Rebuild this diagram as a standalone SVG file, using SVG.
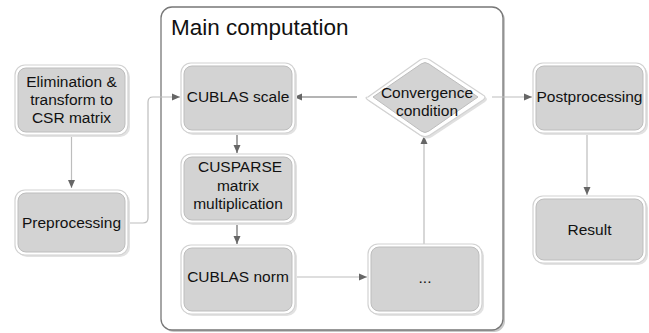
<svg xmlns="http://www.w3.org/2000/svg" width="649" height="333" viewBox="0 0 649 333">
<defs>
<marker id="ah" markerUnits="userSpaceOnUse" markerWidth="10" markerHeight="10" viewBox="0 0 10 10" refX="9" refY="5" orient="auto">
<path d="M1 1.5 L9 5 L1 8.5 Z" fill="#666"/>
</marker>
</defs>
<style>
.outer{fill:#fff;stroke:#d2d2d2;stroke-width:1.2}
.shadow{fill:#e2e2e2;stroke:none}
.inner{fill:#d3d3d3;stroke:#bdbdbd;stroke-width:1}
.t{font-family:"Liberation Sans",Arial,sans-serif;font-size:15.5px;fill:#111;text-anchor:middle}
.light{fill:none;stroke:#bdbdbd;stroke-width:1.2}
.dark{fill:none;stroke:#6a6a6a;stroke-width:1.2}
</style>
<rect width="649" height="333" fill="#fff"/>
<g id="container">
<rect x="163" y="9" width="342" height="323" rx="11" fill="#c8c8c8"/>
<rect x="161" y="7" width="342" height="323" rx="11" fill="#fff" stroke="#777" stroke-width="1.3"/>
<text x="171" y="35" font-family="'Liberation Sans',Arial,sans-serif" font-size="22.5" fill="#111">Main computation</text>
</g>
<g id="connectors">
<path class="light" d="M71.5 135 V188" marker-end="url(#ah)"/>
<path class="light" d="M128 223 H143 Q148 223 148 218 V102 Q148 97 153 97 H180" marker-end="url(#ah)"/>
<path class="dark" d="M237 133 V153" marker-end="url(#ah)"/>
<path class="dark" d="M237 223 V244" marker-end="url(#ah)"/>
<path class="light" d="M295 277 H367" marker-end="url(#ah)"/>
<path class="light" d="M424 244 V136" marker-end="url(#ah)"/>
<path class="dark" d="M357 97 H294" marker-end="url(#ah)"/>
<path class="light" d="M492 97 H532" marker-end="url(#ah)"/>
<path class="light" d="M587 132 V195" marker-end="url(#ah)"/>
</g>
<g id="elimination">
<rect class="shadow" x="17" y="67" width="113" height="70" rx="10"/>
<rect class="outer" x="15" y="65" width="113" height="70" rx="10"/>
<rect class="inner" x="18" y="68" width="107" height="64" rx="8"/>
<text class="t" x="71.5" y="87">Elimination &amp;</text>
<text class="t" x="71.5" y="105">transform to</text>
<text class="t" x="71.5" y="123">CSR matrix</text>
</g>
<g id="preprocessing">
<rect class="shadow" x="17" y="192" width="113" height="65" rx="10"/>
<rect class="outer" x="15" y="190" width="113" height="65" rx="10"/>
<rect class="inner" x="18" y="193" width="107" height="59" rx="8"/>
<text class="t" x="71.5" y="228">Preprocessing</text>
</g>
<g id="cublas-scale">
<rect class="shadow" x="183" y="65" width="114" height="70" rx="10"/>
<rect class="outer" x="181" y="63" width="114" height="70" rx="10"/>
<rect class="inner" x="184" y="66" width="108" height="64" rx="8"/>
<text class="t" x="238" y="102">CUBLAS scale</text>
</g>
<g id="cusparse">
<rect class="shadow" x="183" y="156" width="114" height="69" rx="10"/>
<rect class="outer" x="181" y="154" width="114" height="69" rx="10"/>
<rect class="inner" x="184" y="157" width="108" height="63" rx="8"/>
<text class="t" x="240" y="172">CUSPARSE</text>
<text class="t" x="238" y="191">matrix</text>
<text class="t" x="238" y="209">multiplication</text>
</g>
<g id="cublas-norm">
<rect class="shadow" x="183" y="247" width="114" height="69" rx="10"/>
<rect class="outer" x="181" y="245" width="114" height="69" rx="10"/>
<rect class="inner" x="184" y="248" width="108" height="63" rx="8"/>
<text class="t" x="238" y="282">CUBLAS norm</text>
</g>
<g id="dots">
<rect class="shadow" x="370" y="246" width="114" height="70" rx="10"/>
<rect class="outer" x="368" y="244" width="114" height="70" rx="10"/>
<rect class="inner" x="371" y="247" width="108" height="64" rx="8"/>
<text class="t" x="425" y="283">...</text>
</g>
<g id="convergence">
<path d="M370 99 L422 62 Q427 59 432 62 L485 97 Q489 99 485 102 L432 137 Q427 140 422 137 L370 102 Q366 99 370 99 Z" fill="#e0e0e0"/>
<path d="M368 97 L420 60 Q425 57 430 60 L483 95 Q487 97 483 100 L430 135 Q425 138 420 135 L368 100 Q364 97 368 97 Z" fill="#fff" stroke="#d2d2d2" stroke-width="1.2"/>
<path d="M373 97 L421 64 Q425 61 429 64 L478 97 L429 131 Q425 134 421 131 Z" fill="#d3d3d3" stroke="#bdbdbd" stroke-width="1"/>
<text class="t" x="427" y="98">Convergence</text>
<text class="t" x="427" y="116">condition</text>
</g>
<g id="postprocessing">
<rect class="shadow" x="535" y="65" width="113" height="70" rx="10"/>
<rect class="outer" x="533" y="63" width="113" height="70" rx="10"/>
<rect class="inner" x="536" y="66" width="107" height="64" rx="8"/>
<text class="t" x="589.5" y="102">Postprocessing</text>
</g>
<g id="result">
<rect class="shadow" x="535" y="198" width="113" height="67" rx="10"/>
<rect class="outer" x="533" y="196" width="113" height="67" rx="10"/>
<rect class="inner" x="536" y="199" width="107" height="61" rx="8"/>
<text class="t" x="589.5" y="235">Result</text>
</g>
</svg>
